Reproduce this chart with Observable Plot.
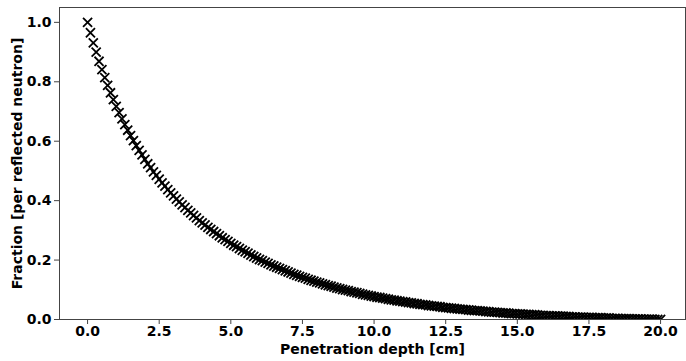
<!DOCTYPE html>
<html>
<head>
<meta charset="utf-8">
<script src="https://cdn.jsdelivr.net/npm/d3@7"></script>
<script src="https://cdn.jsdelivr.net/npm/@observablehq/plot@0.6"></script>
<style>
  html, body { margin: 0; padding: 0; background: #fff; }
  svg { display: block; }
</style>
</head>
<body>
<div id="chart"></div>
<script>
const depth = [
  0.0, 0.1, 0.2, 0.3, 0.4, 0.5, 0.6, 0.7, 0.8, 0.9,
  1.0, 1.1, 1.2, 1.3, 1.4, 1.5, 1.6, 1.7, 1.8, 1.9,
  2.0, 2.1, 2.2, 2.3, 2.4, 2.5, 2.6, 2.7, 2.8, 2.9,
  3.0, 3.1, 3.2, 3.3, 3.4, 3.5, 3.6, 3.7, 3.8, 3.9,
  4.0, 4.1, 4.2, 4.3, 4.4, 4.5, 4.6, 4.7, 4.8, 4.9,
  5.0, 5.1, 5.2, 5.3, 5.4, 5.5, 5.6, 5.7, 5.8, 5.9,
  6.0, 6.1, 6.2, 6.3, 6.4, 6.5, 6.6, 6.7, 6.8, 6.9,
  7.0, 7.1, 7.2, 7.3, 7.4, 7.5, 7.6, 7.7, 7.8, 7.9,
  8.0, 8.1, 8.2, 8.3, 8.4, 8.5, 8.6, 8.7, 8.8, 8.9,
  9.0, 9.1, 9.2, 9.3, 9.4, 9.5, 9.6, 9.7, 9.8, 9.9,
  10.0, 10.1, 10.2, 10.3, 10.4, 10.5, 10.6, 10.7, 10.8, 10.9,
  11.0, 11.1, 11.2, 11.3, 11.4, 11.5, 11.6, 11.7, 11.8, 11.9,
  12.0, 12.1, 12.2, 12.3, 12.4, 12.5, 12.6, 12.7, 12.8, 12.9,
  13.0, 13.1, 13.2, 13.3, 13.4, 13.5, 13.6, 13.7, 13.8, 13.9,
  14.0, 14.1, 14.2, 14.3, 14.4, 14.5, 14.6, 14.7, 14.8, 14.9,
  15.0, 15.1, 15.2, 15.3, 15.4, 15.5, 15.6, 15.7, 15.8, 15.9,
  16.0, 16.1, 16.2, 16.3, 16.4, 16.5, 16.6, 16.7, 16.8, 16.9,
  17.0, 17.1, 17.2, 17.3, 17.4, 17.5, 17.6, 17.7, 17.8, 17.9,
  18.0, 18.1, 18.2, 18.3, 18.4, 18.5, 18.6, 18.7, 18.8, 18.9,
  19.0, 19.1, 19.2, 19.3, 19.4, 19.5, 19.6, 19.7, 19.8, 19.9,
  20.0
];

const fraction = [
  1.000, 0.965, 0.931, 0.900, 0.869, 0.841, 0.814, 0.788, 0.763, 0.740,
  0.717, 0.696, 0.675, 0.656, 0.637, 0.619, 0.602, 0.585, 0.569, 0.554,
  0.539, 0.524, 0.511, 0.497, 0.485, 0.472, 0.460, 0.449, 0.437, 0.426,
  0.416, 0.405, 0.396, 0.386, 0.377, 0.367, 0.359, 0.350, 0.342, 0.333,
  0.325, 0.318, 0.310, 0.303, 0.296, 0.289, 0.282, 0.275, 0.269, 0.263,
  0.256, 0.250, 0.245, 0.239, 0.233, 0.228, 0.223, 0.217, 0.212, 0.207,
  0.202, 0.198, 0.193, 0.189, 0.184, 0.180, 0.176, 0.172, 0.168, 0.164,
  0.160, 0.156, 0.152, 0.149, 0.145, 0.142, 0.139, 0.135, 0.132, 0.129,
  0.126, 0.123, 0.120, 0.117, 0.114, 0.112, 0.109, 0.106, 0.104, 0.101,
  0.099, 0.097, 0.094, 0.092, 0.090, 0.088, 0.085, 0.083, 0.081, 0.079,
  0.077, 0.075, 0.074, 0.072, 0.070, 0.068, 0.066, 0.065, 0.063, 0.062,
  0.060, 0.059, 0.057, 0.056, 0.054, 0.053, 0.051, 0.050, 0.049, 0.047,
  0.046, 0.045, 0.044, 0.043, 0.041, 0.040, 0.039, 0.038, 0.037, 0.036,
  0.035, 0.034, 0.033, 0.032, 0.031, 0.030, 0.030, 0.029, 0.028, 0.027,
  0.026, 0.025, 0.025, 0.024, 0.023, 0.022, 0.022, 0.021, 0.020, 0.020,
  0.019, 0.019, 0.018, 0.017, 0.017, 0.016, 0.016, 0.015, 0.014, 0.014,
  0.013, 0.013, 0.012, 0.012, 0.012, 0.011, 0.011, 0.010, 0.010, 0.009,
  0.009, 0.008, 0.008, 0.008, 0.007, 0.007, 0.007, 0.006, 0.006, 0.006,
  0.005, 0.005, 0.005, 0.004, 0.004, 0.004, 0.003, 0.003, 0.003, 0.003,
  0.002, 0.002, 0.002, 0.002, 0.001, 0.001, 0.001, 0.001, 0.000, 0.000,
  0.000
];

const xTicks = [0, 2.5, 5, 7.5, 10, 12.5, 15, 17.5, 20];
const yTicks = [0, 0.2, 0.4, 0.6, 0.8, 1.0];
const xLabel = "Penetration depth [cm]";
const yLabel = "Fraction [per reflected neutron]";

const data = depth.map((d, i) => ({depth: d, fraction: fraction[i]}));

const font = {fontFamily: "'DejaVu Sans', sans-serif", fontWeight: "bold", fontSize: 14};

const chart = Plot.plot({
  width: 686,
  height: 361,
  marginLeft: 59,
  marginRight: 1,
  marginTop: 7,
  marginBottom: 42,
  style: {
    fontFamily: "'DejaVu Sans', sans-serif",
    fontWeight: "bold",
    fontSize: "14px",
    color: "black",
    background: "white"
  },
  x: {domain: [-0.98, 20.87]},
  y: {domain: [0, 1.05]},
  marks: [
    Plot.dot(data, {
      x: "depth", y: "fraction",
      symbol: "times", r: 4.2,
      stroke: "black", strokeWidth: 1.8,
      clip: true
    }),
    Plot.frame({stroke: "#444", strokeWidth: 1}),
    Plot.axisX(xTicks, {
      tickSize: 5, tickPadding: 2,
      tickFormat: d => d.toFixed(1),
      stroke: "#444",
      label: null
    }),
    Plot.axisY(yTicks, {
      tickSize: 5, tickPadding: 3,
      tickFormat: d => d.toFixed(1),
      stroke: "#444",
      label: null
    }),
    Plot.text([xLabel], {
      frameAnchor: "bottom", dy: 30, lineAnchor: "middle", textAnchor: "middle",
      text: d => d, fill: "black", ...font
    }),
    Plot.text([yLabel], {
      frameAnchor: "left", dx: -42, rotate: -90, textAnchor: "middle", lineAnchor: "middle",
      text: d => d, fill: "black", ...font
    })
  ]
});

document.getElementById("chart").appendChild(chart);
</script>
</body>
</html>
